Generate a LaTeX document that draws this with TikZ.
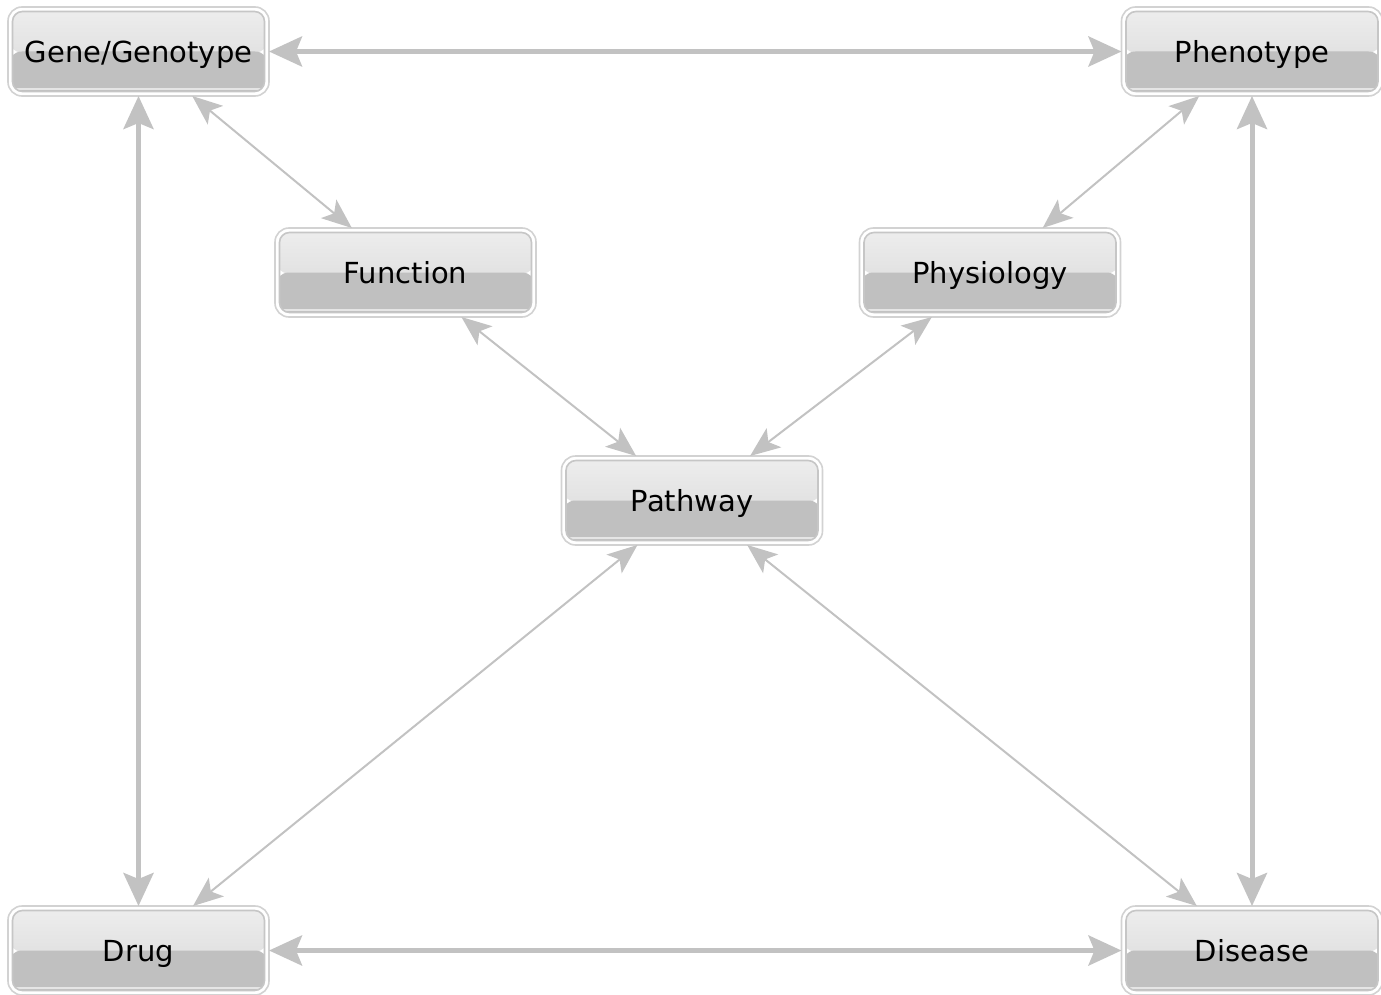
\documentclass[tikz,border=0pt]{standalone}
\usepackage{fontspec}
\setmainfont{DejaVu Sans}
\usetikzlibrary{arrows.meta}

\definecolor{ringgray}{HTML}{D2D2D2}
\definecolor{innergray}{HTML}{C6C6C6}
\definecolor{toplight}{HTML}{EEEEEE}
\definecolor{topdark}{HTML}{E2E2E2}
\definecolor{bottomgray}{HTML}{C0C0C0}
\definecolor{linkgray}{HTML}{C2C2C2}

\tikzset{
  glassbox/.style={
    draw=ringgray, line width=1.6pt, fill=white,
    rounded corners=14pt,
    minimum width=261pt, minimum height=89pt,
    inner sep=0pt, outer sep=0pt,
    text height=22pt, text depth=0pt,
    font=\fontsize{29}{32}\selectfont, text=black,
    path picture={
      \begin{scope}
        \path[clip, rounded corners=10pt]
          ([xshift=4.5pt,yshift=-4.5pt]path picture bounding box.north west)
          rectangle ([xshift=-4.5pt,yshift=4.5pt]path picture bounding box.south east);
        \fill[top color=toplight, bottom color=topdark]
          (path picture bounding box.north west) rectangle ([yshift=-1pt]path picture bounding box.east);
        \fill[bottomgray]
          (path picture bounding box.west) rectangle (path picture bounding box.south east);
        \draw[white!80!gray, line width=1.5pt]
          ([yshift=7pt]path picture bounding box.south west) -- ([yshift=7pt]path picture bounding box.south east);
      \end{scope}
      \draw[innergray, line width=1.6pt, rounded corners=10pt]
        ([xshift=4.5pt,yshift=-4.5pt]path picture bounding box.north west)
        rectangle ([xshift=-4.5pt,yshift=4.5pt]path picture bounding box.south east);
    }
  },
  thicklink/.style={
    draw=linkgray, line width=5pt,
    {Stealth[length=33pt,width=30pt,inset=6pt]}-{Stealth[length=33pt,width=30pt,inset=6pt]}
  },
  thinlink/.style={
    draw=linkgray, line width=2pt,
    {Stealth[length=30pt,width=24pt,inset=7pt]}-{Stealth[length=30pt,width=24pt,inset=7pt]}
  }
}

\begin{document}
\begin{tikzpicture}[x=1pt, y=-1pt]
  % canvas
  \useasboundingbox (0,0) rectangle (1381,995);

  % concept boxes
  \node[glassbox] (gene)   at (138.5, 51.5) {Gene/Genotype};
  \node[glassbox] (pheno)  at (1252, 51.5)  {Phenotype};
  \node[glassbox] (func)   at (405.5, 272.5) {Function};
  \node[glassbox] (phys)   at (990, 272.5)  {Physiology};
  \node[glassbox] (path)   at (692, 500.5)  {Pathway};
  \node[glassbox] (drug)   at (138.5, 950.5) {Drug};
  \node[glassbox] (dis)    at (1252, 950.5) {Disease};

  % outer frame of strong relations
  \draw[thicklink] (gene) -- (pheno);
  \draw[thicklink] (drug) -- (dis);
  \draw[thicklink] (gene) -- (drug);
  \draw[thicklink] (pheno) -- (dis);

  % relations through the inner levels
  \draw[thinlink] (gene) -- (func);
  \draw[thinlink] (pheno) -- (phys);
  \draw[thinlink] (func) -- (path);
  \draw[thinlink] (phys) -- (path);
  \draw[thinlink] (path) -- (drug);
  \draw[thinlink] (path) -- (dis);
\end{tikzpicture}
\end{document}
